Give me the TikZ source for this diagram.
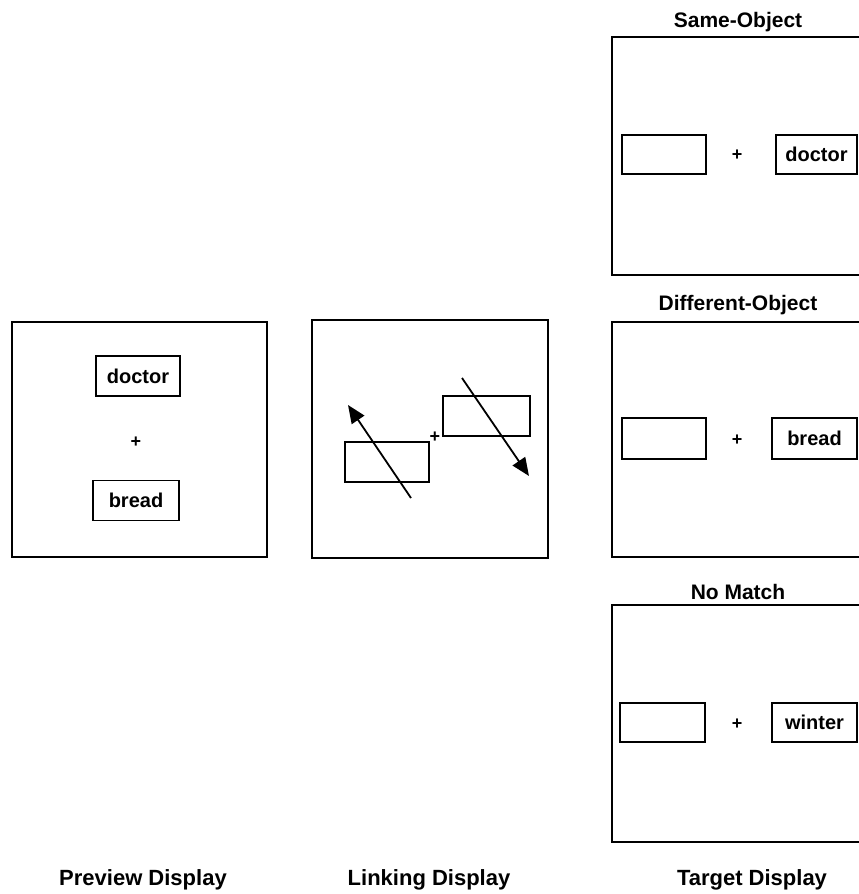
\documentclass[tikz,border=0pt]{standalone}
\usepackage{fontspec}
\setmainfont{Liberation Sans}
\usetikzlibrary{arrows.meta,positioning}

\begin{document}
\begin{tikzpicture}[x=1pt,y=-1pt,
    frame/.style={draw,line width=1.6pt,inner sep=0pt},
    word/.style={draw,line width=1.5pt,inner sep=0pt,minimum height=40pt,
        font=\bfseries\fontsize{20}{20}\selectfont},
    plus/.style={inner sep=0pt,font=\bfseries\fontsize{18}{18}\selectfont},
    title/.style={inner sep=0pt,font=\bfseries\fontsize{21}{21}\selectfont},
    caption/.style={inner sep=0pt,font=\bfseries\fontsize{22}{22}\selectfont},
    link/.style={line width=1.8pt,-{Triangle[length=18pt,width=15pt]}}]
\clip (0,0) rectangle (859,894);

% Preview display
\node[frame,minimum width=255pt,minimum height=235pt] (prev) at (139.5,439.5) {};
\node[word,minimum width=84pt] (prevtop) at (138,376) {doctor};
\node[word,minimum width=86pt] (prevbot) at (136,500.5) {bread};
\node[plus] (prevplus) at (136,442) {+};

% Linking display
\node[frame,minimum width=236pt,minimum height=238pt] (link) at (430,439) {};
\node[word,minimum width=84pt] (linkl) at (387,462) {};
\node[word,minimum width=87pt] (linkr) at (486.5,416) {};
\node[plus] (linkplus) at (435,437) {+};
\coordinate (la) at (411,498);
\coordinate (lb) at (348,405);
\coordinate (ra) at (462,378);
\coordinate (rb) at (529,476);
\draw[link] (la) -- (lb);
\draw[link] (ra) -- (rb);

% Target displays
\node[title] (ttl1) at (738,22) {Same-Object};
\node[frame,minimum width=254pt,minimum height=238pt] (tgt1) at (739,156) {};
\node[word,minimum width=84pt,minimum height=39pt] (tgt1l) at (664,154.5) {};
\node[plus] (tgt1plus) at (737,155) {+};
\node[word,minimum width=81pt,minimum height=39pt] (tgt1r) at (816.5,154.5) {doctor};

\node[title] (ttl2) at (738,305) {Different-Object};
\node[frame,minimum width=254pt,minimum height=235pt] (tgt2) at (739,439.5) {};
\node[word,minimum width=84pt,minimum height=41pt] (tgt2l) at (664,438.5) {};
\node[plus] (tgt2plus) at (737,440) {+};
\node[word,minimum width=85pt,minimum height=41pt] (tgt2r) at (814.5,438.5) {bread};

\node[title] (ttl3) at (738,592) {No Match};
\node[frame,minimum width=254pt,minimum height=237pt] (tgt3) at (739,723.5) {};
\node[word,minimum width=85pt,minimum height=39pt] (tgt3l) at (662.5,722.5) {};
\node[plus] (tgt3plus) at (737,724) {+};
\node[word,minimum width=85pt,minimum height=39pt] (tgt3r) at (814.5,722.5) {winter};

% Captions
\node[caption] (capprev) at (143,880) {Preview Display};
\node[caption] (caplink) at (429,880) {Linking Display};
\node[caption] (captgt) at (752,880) {Target Display};
\end{tikzpicture}
\end{document}
